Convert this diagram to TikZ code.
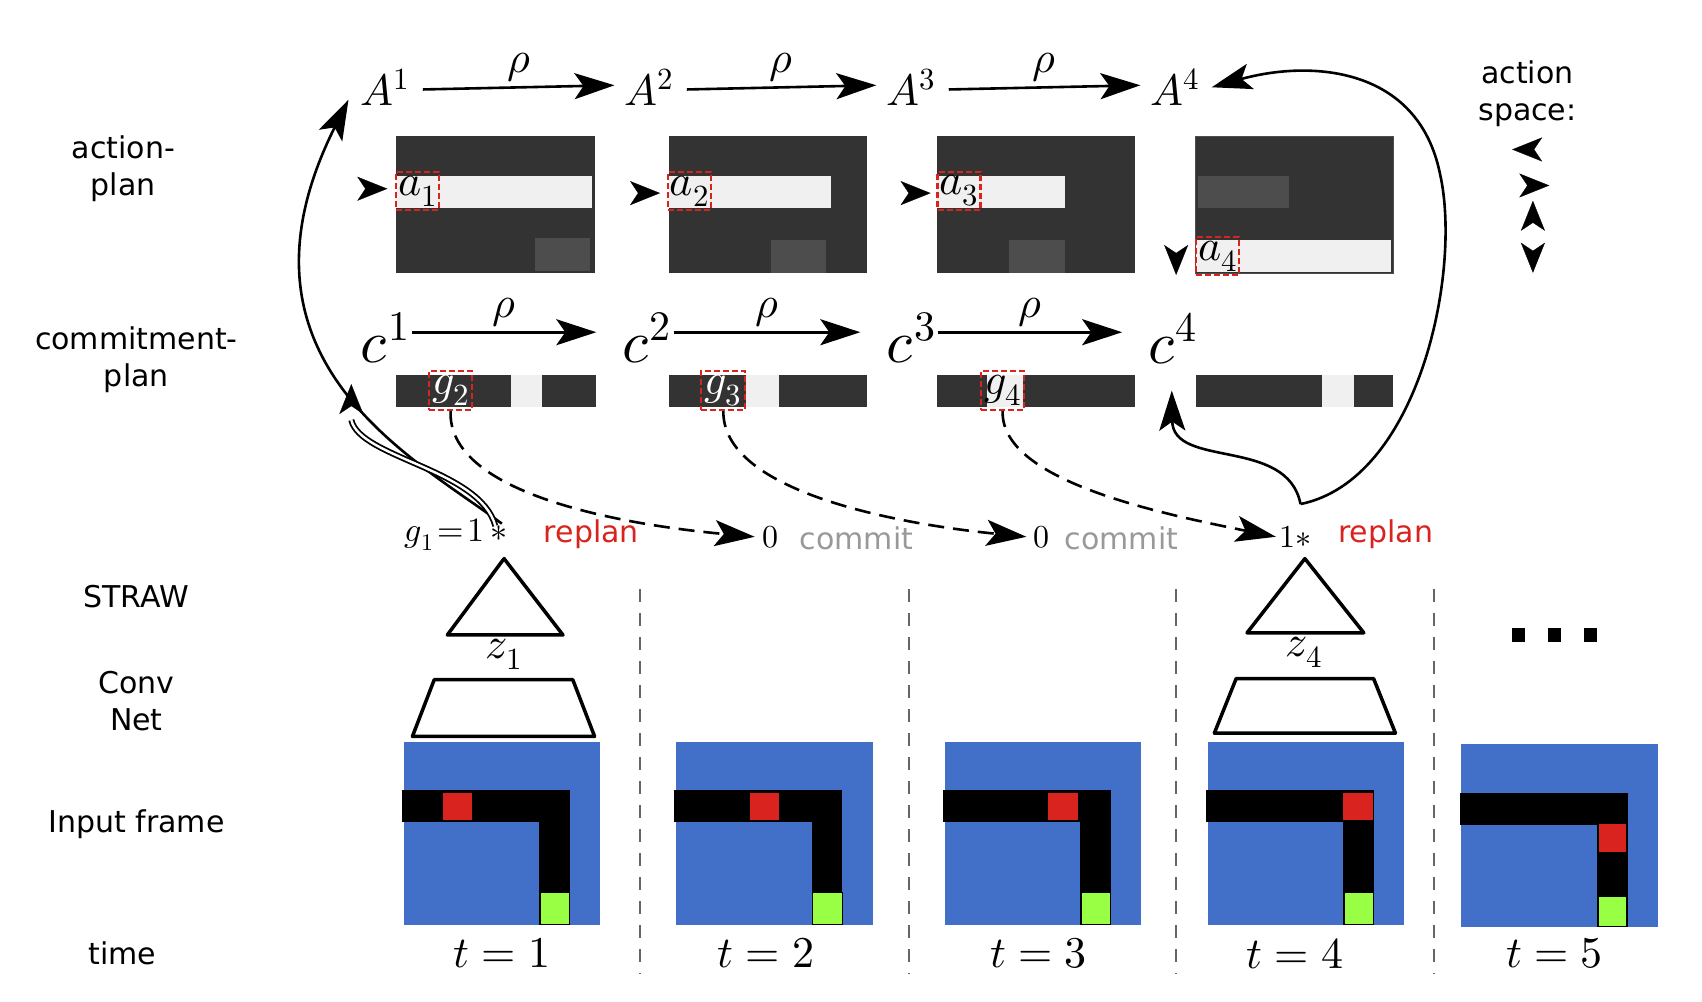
\documentclass[tikz,border=0pt]{standalone}
\usepackage{fontspec}
\setmainfont{DejaVu Sans}
\usepackage{unicode-math}
\setmathfont{Latin Modern Math}
\usetikzlibrary{arrows.meta}
\definecolor{dk}{HTML}{333333}
\definecolor{lg}{HTML}{F0F0F0}
\definecolor{md}{HTML}{4D4D4D}
\definecolor{bl}{HTML}{4270C8}
\definecolor{rd}{HTML}{D9231E}
\definecolor{gn}{HTML}{99FF44}
\definecolor{cg}{HTML}{999999}
\begin{document}
\begin{tikzpicture}[x=1.091pt,y=-1.091pt,
  tip/.style={-{Stealth[length=40pt,width=26pt,inset=9pt]}},
  stip/.style={-{Stealth[length=30pt,width=24pt,inset=8pt]},line width=0.3pt},
  lab/.style={font=\fontsize{30}{37}\selectfont,align=center},
  big/.style={font=\fontsize{44}{48}\selectfont,inner sep=0},
  cbig/.style={font=\fontsize{60}{64}\selectfont,inner sep=0},
  ln/.style={line width=2.6pt},
  rb/.style={draw=rd,dashed,line width=2.2pt,dash pattern=on 6pt off 3pt},
  vl/.style={draw=black!60,dashed,line width=2pt,dash pattern=on 13pt off 11pt}]
\useasboundingbox (0,0) rectangle (1560,918);
% left labels
\node[lab] (l1) at (113,155) {action-\\plan};
\node[lab] (l2) at (125,330) {commitment-\\plan};
\node[lab] (l3) at (125,547) {STRAW};
\node[lab] (l4) at (125,643) {Conv\\Net};
\node[lab] (l5) at (125,755) {Input frame};
\node[lab] (l6) at (112,874) {time};
% A row
\foreach \x/\i in {353/1,595/2,835/3,1077/4}{\node[big] (A\i) at (\x,80) {$A^{\i}$};}
\foreach \a/\b in {1/2,2/3,3/4}{\draw[ln,tip] (A\a.east)++(12,2) -- node[above=4pt,big]{$\rho$} ([xshift=-10pt,yshift=2pt]A\b.west);}
% action plan rects
\fill[dk] (363,125) rectangle (545,250); \fill[lg] (363,161) rectangle (543,191); \fill[md] (490,218) rectangle (541,248);
\fill[dk] (613,125) rectangle (795,250); \fill[lg] (613,161) rectangle (762,191); \fill[md] (707,220) rectangle (757,250);
\fill[dk] (859,125) rectangle (1040,250); \fill[lg] (859,161) rectangle (976,191); \fill[md] (925,220) rectangle (976,250);
\fill[dk] (1096,125) rectangle (1277,251); \draw[md,line width=1pt] (1096,125) rectangle (1277,251); \fill[lg] (1096,220) rectangle (1275,249); \fill[md] (1098,161) rectangle (1181,191);
\node[rb,minimum width=43pt,minimum height=38pt,inner sep=0,big] (a1) at (383,175) {$a_1$};
\node[rb,minimum width=43pt,minimum height=38pt,inner sep=0,big] (a2) at (632,175) {$a_2$};
\node[rb,minimum width=43pt,minimum height=38pt,inner sep=0,big] (a3) at (879,175) {$a_3$};
\node[rb,minimum width=43pt,minimum height=38pt,inner sep=0,big] (a4) at (1116,235) {$a_4$};
\coordinate (p1) at (355,173); \coordinate (p1s) at (353,173);
\coordinate (p2) at (605,177); \coordinate (p2s) at (603,177);
\coordinate (p3) at (853,177); \coordinate (p3s) at (851,177);
\coordinate (p4) at (1078,252); \coordinate (p4s) at (1078,250);
\draw[stip] (p1s) -- (p1);
\draw[stip] (p2s) -- (p2);
\draw[stip] (p3s) -- (p3);
\draw[stip] (p4s) -- (p4);
% c row
\foreach \x/\i in {353/1,593/2,835/3,1075/4}{\node[cbig] (c\i) at (\x,310) {$c^{\i}$};}
\foreach \a/\b in {1/2,2/3,3/4}{\draw[ln,tip] ([xshift=2pt,yshift=6pt]c\a.east) -- node[above=4pt,big]{$\rho$} ([xshift=-26pt,yshift=6pt]c\b.west);}
\fill[dk] (363,344) rectangle (546,373); \fill[lg] (468,344) rectangle (497,373);
\fill[dk] (613,344) rectangle (795,373); \fill[lg] (684,344) rectangle (714,373);
\fill[dk] (859,344) rectangle (1040,373); \fill[lg] (905,344) rectangle (938,373);
\fill[dk] (1096,344) rectangle (1277,373); \fill[lg] (1212,344) rectangle (1241,373);
\node[rb,minimum width=43pt,minimum height=39pt,inner sep=0,big,text=white] (g2) at (413,358) {$g_2$};
\node[rb,minimum width=44pt,minimum height=39pt,inner sep=0,big,text=white] (g3) at (663,358) {$g_3$};
\node[rb,minimum width=43pt,minimum height=39pt,inner sep=0,big] (g4) at (919,358) {$g_4$};
% STRAW outputs
\node[font=\fontsize{34}{38}\selectfont,inner sep=1pt] (s1) at (418,490) {$g_1\!=\!1\,{*}$};
\node[lab,text=rd] (r1) at (542,490) {replan};
\node[font=\fontsize{32}{36}\selectfont] (z2) at (706,492) {$0$};
\node[lab,text=cg] (m2) at (785,493) {commit};
\node[font=\fontsize{32}{36}\selectfont] (z3) at (955,492) {$0$};
\node[lab,text=cg] (m3) at (1028,493) {commit};
\node[font=\fontsize{32}{36}\selectfont,inner sep=1pt] (s4) at (1187,492) {$1{*}$};
\node[lab,text=rd] (r4) at (1270,490) {replan};
% dashed curves
\draw[ln,dashed,dash pattern=on 16pt off 9pt,tip] (g2.south) .. controls (410,450) and (560,480) .. ([xshift=-4pt]z2.west);
\draw[ln,dashed,dash pattern=on 16pt off 9pt,tip] (g3.south) .. controls (662,450) and (820,480) .. ([xshift=-4pt]z3.west);
\draw[ln,dashed,dash pattern=on 16pt off 9pt,tip] (g4.south) .. controls (917,440) and (1060,470) .. ([xshift=-2pt]s4.west);
% big curves
\coordinate (st1) at (460,480);
\draw[ln,tip] (st1) .. controls (380,420) and (200,330) .. ([xshift=-12pt,yshift=6pt]A1.south west);
\draw[line width=6pt] (454,482) .. controls (440,430) and (330,420) .. (322,385);
\draw[line width=2.4pt,white] (454,482) .. controls (440,430) and (330,420) .. (322,385);
\coordinate (c1t) at (322,352); \coordinate (c1s) at (322,354);
\draw[stip] (c1s) -- (c1t);
\coordinate (st4) at (1192,462);
\coordinate (c4t) at (1074,358);
\draw[ln,tip] (st4) .. controls (1180,400) and (1075,430) .. (c4t);
\draw[ln,tip] (st4) .. controls (1300,440) and (1340,250) .. (1320,160) .. controls (1300,60) and (1200,55) .. ([xshift=12pt]A4.east);
% triangles, convnets
\draw[line width=3.5pt,line join=round] (410,582) -- (516,582) -- (462,512) -- cycle;
\draw[line width=3.5pt,line join=round] (1143,580) -- (1250,580) -- (1196,512) -- cycle;
\node[big] (zz1) at (462,600) {$z_1$};
\node[big] (zz4) at (1195,598) {$z_4$};
\draw[line width=3.5pt,line join=round] (378,675) -- (545,675) -- (525,623) -- (398,623) -- cycle;
\draw[line width=3.5pt,line join=round] (1113,672) -- (1279,672) -- (1259,622) -- (1133,622) -- cycle;
% frames
\foreach \x/\r in {370/406,620/687,866/961,1107/1231}{
  \fill[bl] (\x,680) rectangle ++(180,168);
  \fill[black] (\x-2,724) rectangle ++(154,29);
  \fill[black] (\x+124,724) rectangle ++(28,124);
  \fill[rd] (\r,727) rectangle ++(27,25);
  \fill[gn,draw=black,line width=1pt] (\x+125,818) rectangle ++(27,29);
}
\fill[bl] (1339,682) rectangle (1520,850);
\fill[black] (1338,727) rectangle (1492,756);
\fill[black] (1464,727) rectangle (1492,850);
\fill[rd] (1466,755) rectangle (1490,781);
\fill[gn,draw=black,line width=1pt] (1465,822) rectangle (1491,849);
% dashed vertical lines
\foreach \x in {587,833,1078,1314}{\draw[vl] (\x,540) -- (\x,892);}
% time labels
\foreach \x/\i in {460/1,702/2,952/3,1187/4,1425/5}{\node[big] (t\i) at (\x,874) {$t=\i$};}
% dots
\foreach \x in {1392,1425,1458}{\fill (\x-6,576) rectangle ++(12,12);}
% action space
\node[lab] (as) at (1400,86) {action\\space:};
\coordinate (q1) at (1386,137); \coordinate (q1s) at (1388,137);
\draw[stip] (q1s) -- (q1);
\coordinate (q2) at (1420,170); \coordinate (q2s) at (1418,170);
\draw[stip] (q2s) -- (q2);
\coordinate (q3) at (1405,184); \coordinate (q3s) at (1405,186);
\draw[stip] (q3s) -- (q3);
\coordinate (q4) at (1405,250); \coordinate (q4s) at (1405,248);
\draw[stip] (q4s) -- (q4);
\end{tikzpicture}
\end{document}
